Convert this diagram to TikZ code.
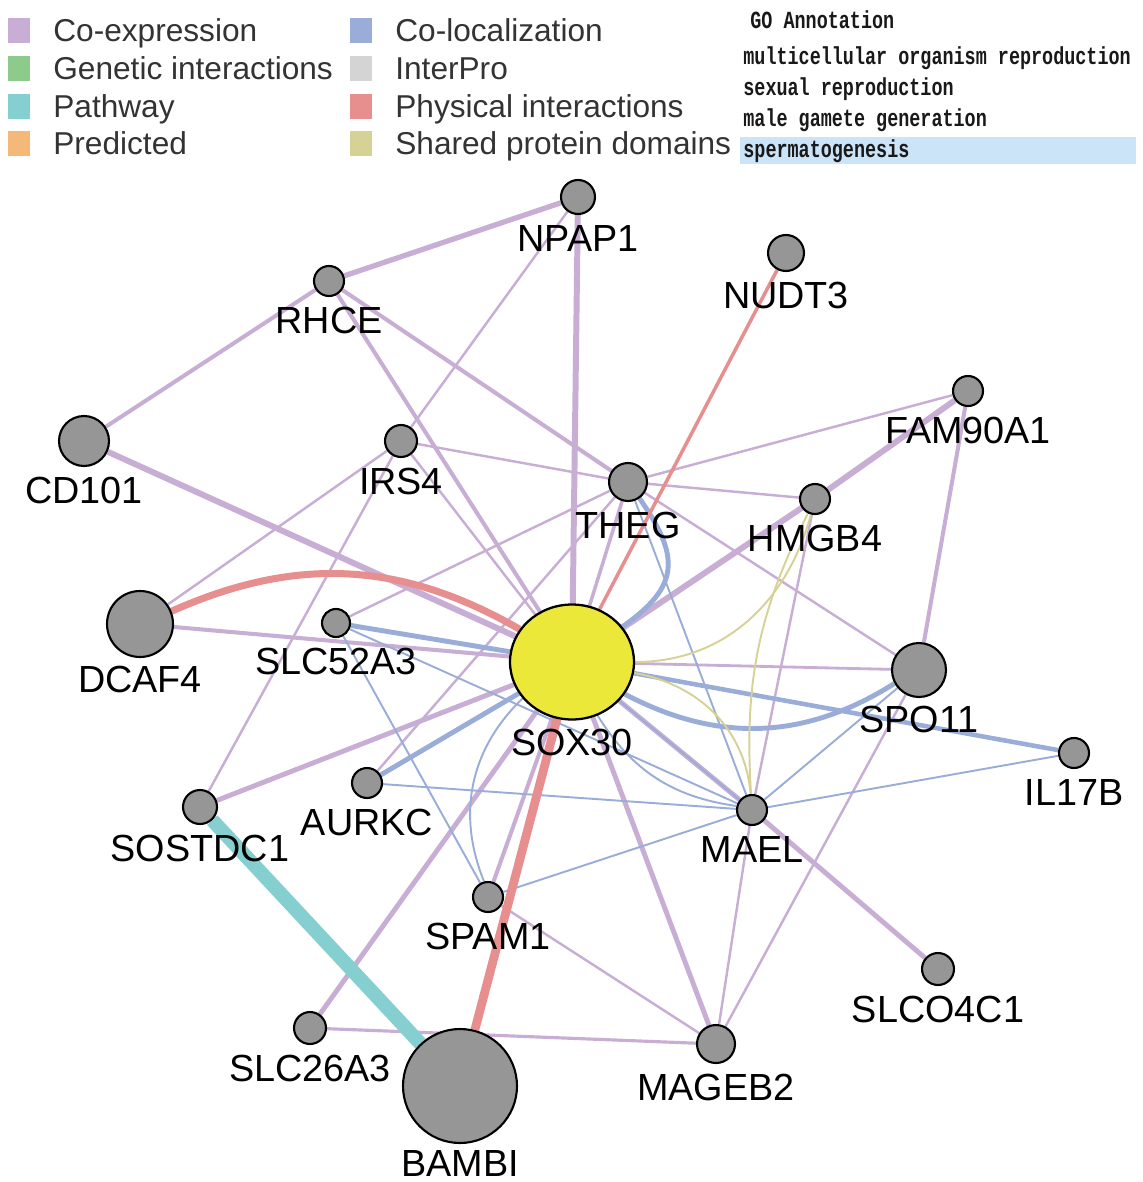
\documentclass[tikz,border=0pt]{standalone}
\usepackage{fontspec}
\setmainfont{Liberation Sans}
\newfontfamily\gofont[FakeStretch=0.75]{Liberation Mono}
\usetikzlibrary{shapes.geometric}
\pgfdeclarelayer{background}
\pgfsetlayers{background,main}

\definecolor{coexpc}{RGB}{200,174,212}
\definecolor{genetc}{RGB}{140,203,140}
\definecolor{pathc}{RGB}{134,207,208}
\definecolor{predc}{RGB}{244,184,120}
\definecolor{colocc}{RGB}{154,172,216}
\definecolor{iprc}{RGB}{212,212,212}
\definecolor{physc}{RGB}{231,142,142}
\definecolor{sharedc}{RGB}{214,210,150}
\definecolor{genec}{RGB}{150,150,150}
\definecolor{hubc}{RGB}{236,232,58}
\definecolor{gohl}{RGB}{204,228,247}

\tikzset{
  gene/.style={circle, draw=black, fill=genec, line width=1.2pt,
    minimum size=#1, inner sep=0pt},
  hub/.style={ellipse, draw=black, fill=hubc, line width=1.3pt,
    minimum width=2.48cm, minimum height=2.3cm, inner sep=0pt},
  every label/.style={font=\fontsize{21.5}{24}\selectfont, inner sep=0pt,
    label distance=0.2cm},
  coexp/.style={draw=coexpc, line width=#1},
  coexp/.default=1.4pt,
  coloc/.style={draw=colocc, line width=#1},
  coloc/.default=1.1pt,
  phys/.style={draw=physc, line width=#1},
  pathw/.style={draw=pathc, line width=#1},
  shared/.style={draw=sharedc, line width=1.1pt},
  key/.style={minimum width=0.44cm, minimum height=0.5cm, inner sep=0pt},
  keytext/.style={anchor=base west, inner sep=0pt, text=black!80,
    font=\fontsize{18}{20}\selectfont},
  gotext/.style={anchor=west, inner sep=0pt, text=black!90,
    font=\gofont\bfseries\fontsize{14}{16}\selectfont},
}

\begin{document}
\begin{tikzpicture}[x=0.02cm, y=0.02cm]
  \useasboundingbox (0,0) rectangle (1142,-1182);

  % legend
  \foreach \name/\col/\txt/\px/\py in {
      coexp/coexpc/Co-expression/19/31,
      genet/genetc/Genetic interactions/19/69,
      path/pathc/Pathway/19/107,
      pred/predc/Predicted/19/144,
      coloc/colocc/Co-localization/361/31,
      ipr/iprc/InterPro/361/69,
      phys/physc/Physical interactions/361/107,
      shared/sharedc/Shared protein domains/361/144}{
    \node[key, fill=\col] (sq-\name) at (\px,-\py) {};
    \node[keytext] (lg-\name) at (\px+34,-\py-11) {\txt};
  }

  % GO annotation
  \fill[gohl] (740,-137) rectangle (1136,-164);
  \node[gotext] (go-head) at (750,-20) {GO Annotation};
  \node[gotext] (go-1) at (743,-58) {multicellular organism reproduction};
  \node[gotext] (go-2) at (743,-89) {sexual reproduction};
  \node[gotext] (go-3) at (743,-120) {male gamete generation};
  \node[gotext] (go-4) at (743,-151) {spermatogenesis};

  % genes
  \node[hub, label={[label distance=0.17cm]below:SOX30}] (sox30) at (572,-662) {};
  \node[gene=0.68cm, label=below:NPAP1] (npap1) at (578,-197) {};
  \node[gene=0.72cm, label=below:NUDT3] (nudt3) at (786,-253) {};
  \node[gene=0.6cm, label=below:RHCE] (rhce) at (329,-281) {};
  \node[gene=1.0cm, label=below:CD101] (cd101) at (84,-441) {};
  \node[gene=0.64cm, label=below:IRS4] (irs4) at (401,-441) {};
  \node[gene=0.6cm, label=below:FAM90A1] (fam90a1) at (968,-391) {};
  \node[gene=0.76cm, label=below:THEG] (theg) at (628,-482) {};
  \node[gene=0.6cm, label=below:HMGB4] (hmgb4) at (815,-499) {};
  \node[gene=1.32cm, label={[label distance=0.15cm]below:DCAF4}] (dcaf4) at (140,-624) {};
  \node[gene=0.56cm, label=below:SLC52A3] (slc52a3) at (336,-623) {};
  \node[gene=1.08cm, label={[label distance=0.15cm]below:SPO11}] (spo11) at (919,-670) {};
  \node[gene=0.6cm, label=below:IL17B] (il17b) at (1074,-753) {};
  \node[gene=0.6cm, label=below:AURKC] (aurkc) at (367,-783) {};
  \node[gene=0.68cm, label=below:SOSTDC1] (sostdc1) at (200,-807) {};
  \node[gene=0.6cm, label=below:MAEL] (mael) at (752,-810) {};
  \node[gene=0.6cm, label=below:SPAM1] (spam1) at (488,-897) {};
  \node[gene=0.64cm, label=below:SLCO4C1] (slco4c1) at (938,-969) {};
  \node[gene=0.64cm, label=below:SLC26A3] (slc26a3) at (310,-1028) {};
  \node[gene=2.28cm, label={[label distance=0.12cm]below:BAMBI}] (bambi) at (460,-1086) {};
  \node[gene=0.76cm, label=below:MAGEB2] (mageb2) at (716,-1044) {};

  % links
  \begin{pgfonlayer}{background}
  \draw (npap1) edge[coexp=3pt] (rhce)
        (npap1) edge[coexp=3.4pt] (sox30)
        (npap1) edge[coexp] (irs4)
        (rhce) edge[coexp=2.3pt] (cd101)
        (rhce) edge[coexp=2.3pt] (theg)
        (rhce) edge[coexp=2.3pt] (sox30)
        (cd101) edge[coexp=3.4pt] (sox30)
        (irs4) edge[coexp] (theg)
        (irs4) edge[coexp] (dcaf4)
        (irs4) edge[coexp] (sostdc1)
        (irs4) edge[coexp] (sox30)
        (theg) edge[coexp] (fam90a1)
        (theg) edge[coexp] (hmgb4)
        (theg) edge[coexp] (spo11)
        (theg) edge[coexp=2pt] (sox30)
        (slc52a3) edge[coexp] (theg)
        (aurkc) edge[coexp] (theg)
        (fam90a1) edge[coexp=3.4pt] (hmgb4)
        (hmgb4) edge[coexp=3.4pt] (sox30)
        (fam90a1) edge[coexp=2.3pt] (spo11)
        (hmgb4) edge[coexp] (mael)
        (sox30) edge[coexp=1.6pt] (spo11)
        (sox30) edge[coexp=2.8pt] (mael)
        (mael) edge[coexp=2.8pt] (slco4c1)
        (sox30) edge[coexp=2.8pt] (mageb2)
        (mael) edge[coexp] (mageb2)
        (spo11) edge[coexp] (mageb2)
        (spam1) edge[coexp] (mageb2)
        (slc26a3) edge[coexp=1.8pt] (mageb2)
        (slc26a3) edge[coexp=2.8pt] (sox30)
        (spam1) edge[coexp=2.3pt] (sox30)
        (sostdc1) edge[coexp=2.8pt] (sox30)
        (dcaf4) edge[coexp=2.3pt] (sox30);
  \draw (slc52a3) edge[coloc=2.8pt] (sox30)
        (aurkc) edge[coloc=2.8pt] (sox30)
        (theg) edge[coloc=2.8pt, out=-55, in=35, looseness=1.4] (sox30)
        (sox30) edge[coloc=2.8pt, bend right=30] (spo11)
        (sox30) edge[coloc=2.6pt] (il17b)
        (theg) edge[coloc] (mael)
        (slc52a3) edge[coloc] (mael)
        (slc52a3) edge[coloc] (spam1)
        (aurkc) edge[coloc] (mael)
        (spam1) edge[coloc, bend left=34] (sox30)
        (spam1) edge[coloc] (mael)
        (sox30) edge[coloc] (mael)
        (sox30) edge[coloc, bend right=25] (mael)
        (mael) edge[coloc] (spo11)
        (mael) edge[coloc] (il17b);
  \draw (sox30) edge[shared, out=0, in=-105] (hmgb4)
        (sox30) edge[shared, out=-10, in=95] (mael)
        (hmgb4) edge[shared, bend right=15] (mael);
  \draw (nudt3) edge[phys=2pt] (sox30)
        (dcaf4) edge[phys=4pt, bend left=27] (sox30)
        (bambi) edge[phys=5pt] (sox30);
  \draw (sostdc1) edge[pathw=8pt] (bambi);
  \end{pgfonlayer}
\end{tikzpicture}
\end{document}
